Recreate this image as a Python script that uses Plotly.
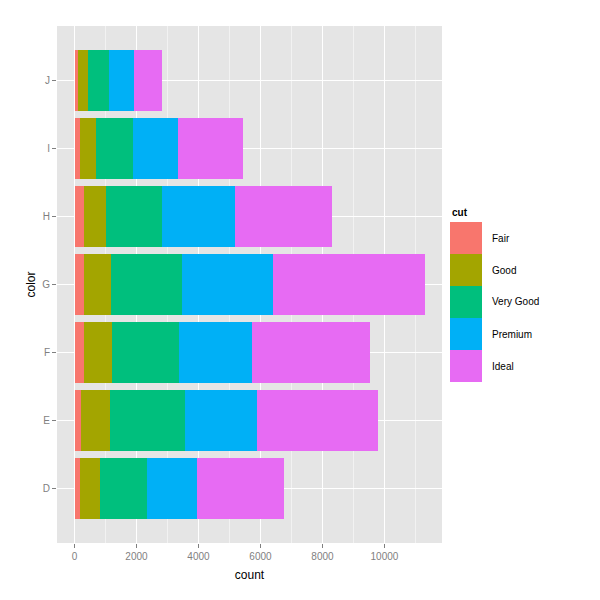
import plotly.graph_objects as go

colors_cat = ["D", "E", "F", "G", "H", "I", "J"]
cuts = ["Fair", "Good", "Very Good", "Premium", "Ideal"]
fair = [163, 224, 312, 314, 303, 175, 119]
good = [662, 933, 909, 871, 702, 522, 307]
very_good = [1513, 2400, 2164, 2299, 1824, 1204, 678]
premium = [1603, 2337, 2331, 2924, 2360, 1428, 808]
ideal = [2834, 3903, 3826, 4884, 3115, 2093, 896]
series = [fair, good, very_good, premium, ideal]
palette = ["#F8766D", "#A3A500", "#00BF7D", "#00B0F6", "#E76BF3"]
x_ticks = [0, 2000, 4000, 6000, 8000, 10000]

# page body has an 8px margin; compensate so the figure lands like the reference
OFF = 8
W, H = 600 - OFF, 600 - OFF
L, R, T, B = 57 - OFF, 158, 26 - OFF, 57

fig = go.Figure()
for name, vals, col in zip(cuts, series, palette):
    fig.add_trace(go.Bar(y=colors_cat, x=vals, name=name, orientation="h",
                         marker=dict(color=col, line=dict(width=0)),
                         showlegend=False))

totals = [sum(v) for v in zip(*series)]
xmax = max(totals)
pad = xmax * 0.05

fig.update_layout(
    width=W, height=H, barmode="stack", bargap=0.1,
    margin=dict(l=L, r=R, t=T, b=B, autoexpand=False),
    paper_bgcolor="white", plot_bgcolor="#E5E5E5",
    font=dict(family="Liberation Sans, Arial, sans-serif", color="black"),
    xaxis=dict(range=[-pad, xmax + pad], tickvals=x_ticks,
               ticktext=[str(v) for v in x_ticks], automargin=False,
               showgrid=True, gridcolor="white", gridwidth=1.1,
               minor=dict(tickvals=[1000, 3000, 5000, 7000, 9000, 11000],
                          showgrid=True, gridcolor="#F2F2F2", gridwidth=0.5),
               zeroline=False, ticks="outside", ticklen=4, tickcolor="#7F7F7F",
               tickfont=dict(size=10, color="#7F7F7F"),
               title=dict(text="count", font=dict(size=12), standoff=9),
               showline=False),
    yaxis=dict(categoryorder="array", categoryarray=colors_cat,
               range=[-0.8, 6.8], automargin=False,
               showgrid=True, gridcolor="white", gridwidth=1.1,
               zeroline=False, ticks="outside", ticklen=4, tickcolor="#7F7F7F",
               tickfont=dict(size=10, color="#7F7F7F"),
               title=dict(text="color", font=dict(size=12), standoff=4),
               showline=False),
)

# custom legend (positions given in page pixels of the reference)
pw = W - L - R
ph = H - T - B
def px(x):
    return (x - OFF - L) / pw
def py(y):
    return (H - B - (y - OFF)) / ph

key_x0, key_x1 = 450, 482
key_top, key_h = 222, 32
fig.add_annotation(x=px(key_x0), y=py(212), xref="paper", yref="paper",
                   text="<b>cut</b>", showarrow=False, xanchor="left",
                   yanchor="middle", font=dict(size=10, color="black"))
for i, (name, col) in enumerate(zip(cuts, palette)):
    y0 = key_top + i * key_h
    fig.add_shape(type="rect", xref="paper", yref="paper",
                  x0=px(key_x0), x1=px(key_x1), y0=py(y0 + key_h), y1=py(y0),
                  fillcolor=col, line=dict(width=0))
    fig.add_annotation(x=px(490), y=py(y0 + key_h / 2), xref="paper", yref="paper",
                       text=name, showarrow=False, xanchor="left", yanchor="middle",
                       font=dict(size=10, color="black"))

fig.write_html("out.html")
